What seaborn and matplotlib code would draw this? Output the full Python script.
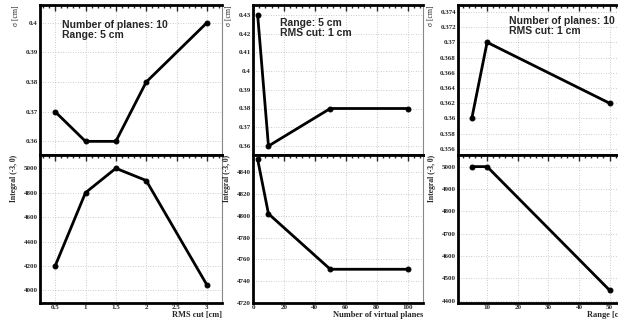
import numpy as np
import pandas as pd
import matplotlib
matplotlib.use('Agg')
import matplotlib.pyplot as plt
import seaborn as sns
from matplotlib.ticker import MultipleLocator, FuncFormatter

sns.set_style('white')
plt.rcParams['font.family'] = ['Liberation Serif', 'DejaVu Serif']

# scan 1: RMS cut
rms_cut = [0.5, 1, 1.5, 2, 3]
rms_sigma = [0.37, 0.36, 0.36, 0.38, 0.40]
rms_integral = [4200, 4800, 5000, 4900, 4045]

# scan 2: number of virtual planes
n_planes = [3, 10, 50, 100]
planes_sigma = [0.43, 0.36, 0.38, 0.38]
planes_integral = [4852, 4802, 4751, 4751]

# scan 3: range
range_cm = [5, 10, 50]
range_sigma = [0.360, 0.370, 0.362]
range_integral = [5000, 5000, 4447]

W, H = 618, 323
fig = plt.figure(figsize=(W / 100, H / 100), dpi=100)


def fmt(v, pos):
    return '%g' % v


panels = [
    dict(x=rms_cut, s=rms_sigma, i=rms_integral, left=40, width=182,
         xlim=(0.25, 3.25), xmaj=0.5, xmin=0.1,
         slim=(0.3554, 0.406), smaj=0.01, smin=0.002,
         ilim=(3896, 5109), imaj=200, imin=40,
         xlabel='RMS cut [cm]', text='Number of planes: 10\nRange: 5 cm',
         tx=0.12, ty=0.90),
    dict(x=n_planes, s=planes_sigma, i=planes_integral, left=253, width=170,
         xlim=(0, 110), xmaj=20, xmin=4,
         slim=(0.3552, 0.4352), smaj=0.01, smin=0.002,
         ilim=(4720, 4856), imaj=20, imin=4,
         xlabel='Number of virtual planes', text='Range: 5 cm\nRMS cut: 1 cm',
         tx=0.16, ty=0.91),
    dict(x=range_cm, s=range_sigma, i=range_integral, left=458, width=170,
         xlim=(0.5, 56), xmaj=10, xmin=2,
         slim=(0.3552, 0.3749), smaj=0.002, smin=0.0004,
         ilim=(4390, 5052), imaj=100, imin=20,
         xlabel='Range [cm]', text='Number of planes: 10\nRMS cut: 1 cm',
         tx=0.30, ty=0.93),
]

for p in panels:
    ax_top = fig.add_axes([p['left'] / W, 1 - 155 / H, p['width'] / W, 150 / H])
    ax_bot = fig.add_axes([p['left'] / W, 1 - 303 / H, p['width'] / W, 148 / H])
    df = pd.DataFrame({'x': p['x'], 's': p['s'], 'i': p['i']})
    sns.lineplot(data=df, x='x', y='s', ax=ax_top, color='black', lw=2,
                 marker='o', markersize=3.5, markeredgecolor='black')
    sns.lineplot(data=df, x='x', y='i', ax=ax_bot, color='black', lw=2,
                 marker='o', markersize=3.5, markeredgecolor='black')

    for ax, ylim, ymaj, ymin in [(ax_top, p['slim'], p['smaj'], p['smin']),
                                  (ax_bot, p['ilim'], p['imaj'], p['imin'])]:
        ax.set_xlim(p['xlim'])
        ax.set_ylim(ylim)
        ax.xaxis.set_major_locator(MultipleLocator(p['xmaj']))
        ax.xaxis.set_minor_locator(MultipleLocator(p['xmin']))
        ax.yaxis.set_major_locator(MultipleLocator(ymaj))
        ax.yaxis.set_minor_locator(MultipleLocator(ymin))
        ax.xaxis.set_major_formatter(FuncFormatter(fmt))
        ax.yaxis.set_major_formatter(FuncFormatter(fmt))
        ax.grid(True, which='major', ls=(0, (1, 2)), color='#bbbbbb', lw=0.6)
        ax.tick_params(which='both', direction='in', top=True, right=False,
                       labelsize=5, pad=1.5, width=1)
        ax.tick_params(which='major', length=4)
        ax.tick_params(which='minor', length=2)
        for lab in ax.get_xticklabels() + ax.get_yticklabels():
            lab.set_fontweight('bold')
        for side in ['left', 'top', 'bottom']:
            ax.spines[side].set_linewidth(2)
            ax.spines[side].set_color('black')
        ax.spines['right'].set_linewidth(0.8)
        ax.spines['right'].set_color('#888888')
        ax.set_xlabel('')
        ax.set_ylabel('')

    ax_top.tick_params(axis='x', labelbottom=False)
    ax_top.set_ylabel('σ [cm]', fontsize=5.5, loc='top', labelpad=4)
    ax_bot.set_ylabel('Integral (-3, 0)', fontsize=5.5, fontweight='bold',
                      loc='top', labelpad=4)
    ax_bot.set_xlabel(p['xlabel'], fontsize=6, fontweight='bold', loc='right',
                      labelpad=1)
    ax_top.text(p['tx'], p['ty'], p['text'], transform=ax_top.transAxes,
                va='top', ha='left', fontsize=7.5, fontweight='bold',
                family=['Liberation Sans', 'DejaVu Sans'], linespacing=1.0)

fig.savefig('out.png', dpi=100)
